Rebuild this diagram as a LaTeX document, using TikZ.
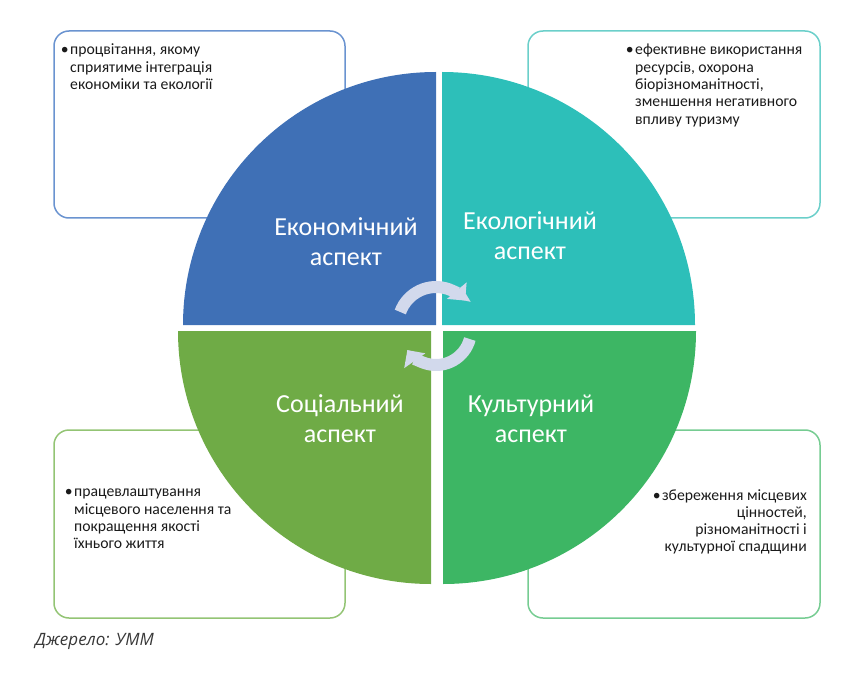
\documentclass[tikz,border=0pt]{standalone}
\usepackage{fontspec}
\setmainfont{Carlito}
\newfontfamily\srcfont{Open Sans}
\usetikzlibrary{arrows.meta}
\definecolor{qblue}{HTML}{3F70B6}
\definecolor{qteal}{HTML}{2DBFB9}
\definecolor{qgreenl}{HTML}{6FAB46}
\definecolor{qgreenr}{HTML}{3DB664}
\definecolor{bblue}{HTML}{6A93D0}
\definecolor{bteal}{HTML}{6BCFCA}
\definecolor{bgreenl}{HTML}{93C474}
\definecolor{bgreenr}{HTML}{76CC92}
\definecolor{arrowc}{HTML}{D2D9EC}
\definecolor{txt}{HTML}{1A1A1A}
\tikzset{
  infobox/.style={draw, line width=1.5pt, rounded corners=15pt},
  infotext/.style={inner sep=0pt, text=txt, font=\fontsize{15.7}{17.3}\selectfont},
  aspect/.style={text=white, align=center, inner sep=0pt, font=\fontsize{26}{30}\selectfont},
  cycarrow/.style={draw=arrowc, line width=12pt, -{Triangle[width=25pt,length=13pt]}}
}
\begin{document}
\begin{tikzpicture}[x=1pt,y=-1pt]
\useasboundingbox (0,0) rectangle (854,679);
% info boxes
\draw[infobox, bblue] (54,31) rectangle (345,218);
\draw[infobox, bteal] (528,31) rectangle (820,218);
\draw[infobox, bgreenl] (54,430) rectangle (345,618);
\draw[infobox, bgreenr] (528,430) rectangle (820,618);
% quadrants
\fill[qblue] (436,325) -- (183,325) arc[start angle=180,end angle=270,radius=253] -- cycle;
\fill[qteal] (442,325) -- (442,72) arc[start angle=270,end angle=360,radius=253] -- cycle;
\fill[qgreenl] (431,331) -- (178,331) arc[start angle=180,end angle=90,radius=253] -- cycle;
\fill[qgreenr] (443,331) -- (696,331) arc[start angle=0,end angle=90,radius=253] -- cycle;
% labels
\node[aspect] (econ) at (346,242) {Економічний\\аспект};
\node[aspect] (ecol) at (530,236) {Екологічний\\аспект};
\node[aspect] (soc) at (340,419) {Соціальний\\аспект};
\node[aspect] (cult) at (531,419) {Культурний\\аспект};
% circular arrows
\coordinate (ct) at (436,325);
\coordinate (cb) at (436,330);
\draw[cycarrow] ([shift={(200:38)}]ct) arc[start angle=200,end angle=320,radius=38];
\draw[cycarrow] ([shift={(15:35)}]cb) arc[start angle=15,end angle=145,radius=35];
% texts
\node[infotext, anchor=north west, align=left] (t1) at (70,44)
  {\llap{•\hspace{1.5pt}}процвітання, якому\\сприятиме інтеграція\\економіки та екології};
\node[infotext, anchor=north west, align=left] (t2) at (635,44)
  {\llap{•\hspace{1.5pt}}ефективне використання\\ресурсів, охорона\\біорізноманітності,\\зменшення негативного\\впливу туризму};
\node[infotext, anchor=north west, align=left] (t3) at (74,489)
  {\llap{•\hspace{1.5pt}}працевлаштування\\місцевого населення та\\покращення якості\\їхнього життя};
\node[infotext, anchor=north east, align=right] (t4) at (807,489)
  {•\hspace{1.5pt}збереження місцевих\\цінностей,\\різноманітності і\\культурної спадщини};
% source
\node[anchor=west, inner sep=0pt, text=black!78, font=\srcfont\itshape\fontsize{17}{20}\selectfont] (src) at (35,641) {Джерело: УММ};
\end{tikzpicture}
\end{document}
